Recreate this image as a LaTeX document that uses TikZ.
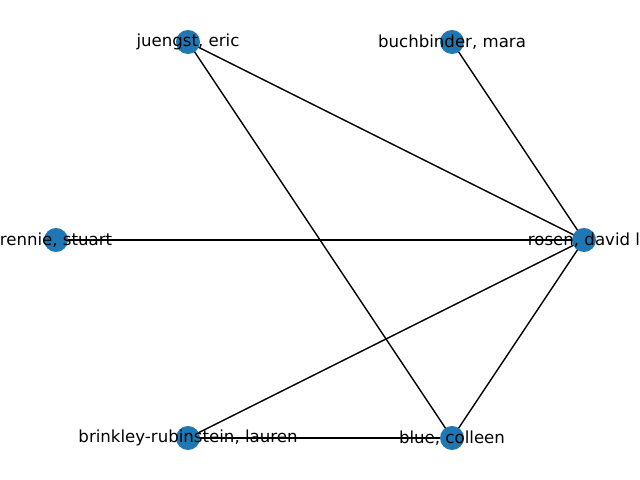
\documentclass[tikz,border=0pt]{standalone}
\usepackage{fontspec}
\setmainfont{DejaVu Sans}
\usetikzlibrary{backgrounds}
\definecolor{tabblue}{HTML}{1F77B4}
\tikzset{
  vertex/.style={circle,fill=tabblue,inner sep=0pt,minimum size=6.1mm},
  name label/.style={font=\fontsize{12pt}{14pt}\selectfont,inner sep=0pt,anchor=center},
  edge/.style={line width=1pt,black}
}
\begin{document}
\begin{tikzpicture}[x=0.254mm,y=-0.254mm]
        \useasboundingbox (0,0) rectangle (640,480);

        % vertices
        \node[vertex] (juengst) at (188,42) {};
        \node[vertex] (buchbinder) at (452,42) {};
        \node[vertex] (rennie) at (56,240) {};
        \node[vertex] (rosen) at (584,240) {};
        \node[vertex] (brinkley) at (188,438) {};
        \node[vertex] (blue) at (452,438) {};

        % edges behind the vertices
        \begin{scope}[on background layer]
        \draw[edge] (juengst.center) -- (rosen.center);
        \draw[edge] (juengst.center) -- (blue.center);
        \draw[edge] (buchbinder.center) -- (rosen.center);
        \draw[edge] (rennie.center) -- (rosen.center);
        \draw[edge] (rosen.center) -- (brinkley.center);
        \draw[edge] (rosen.center) -- (blue.center);
        \draw[edge] (brinkley.center) -- (blue.center);
        \end{scope}

        % labels on top
        \node[name label] (juengst-l) at (juengst) {juengst, eric};
        \node[name label] (buchbinder-l) at (buchbinder) {buchbinder, mara};
        \node[name label] (rennie-l) at (rennie) {rennie, stuart};
        \node[name label] (rosen-l) at (rosen) {rosen, david l};
        \node[name label] (brinkley-l) at (brinkley) {brinkley-rubinstein, lauren};
        \node[name label] (blue-l) at (blue) {blue, colleen};

\end{tikzpicture}
\end{document}
